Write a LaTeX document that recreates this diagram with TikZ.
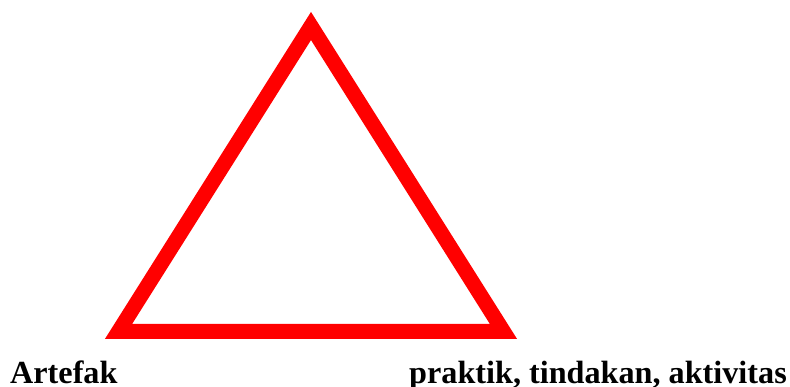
\documentclass[tikz,border=0pt]{standalone}
\usepackage{fontspec}
\setmainfont{Liberation Serif}
\begin{document}
\begin{tikzpicture}[x=1pt,y=-1pt,
  tri/.style={draw=red,line width=15pt,miter limit=10,line join=miter},
  lbl/.style={font=\fontsize{32.2}{32.2}\selectfont\bfseries,inner sep=0pt,text=black}]
\useasboundingbox (0,0) rectangle (790,387);
\coordinate (apex) at (311,26);
\coordinate (bl) at (118.5,331.5);
\coordinate (br) at (503.5,331.5);
\draw[tri] (apex) -- (bl) -- (br) -- cycle;
\node[lbl,anchor=base west] (art) at (10,383) {Artefak};
\node[lbl,anchor=base east] (prak) at (787,383) {praktik, tindakan, aktivitas};
\end{tikzpicture}
\end{document}
